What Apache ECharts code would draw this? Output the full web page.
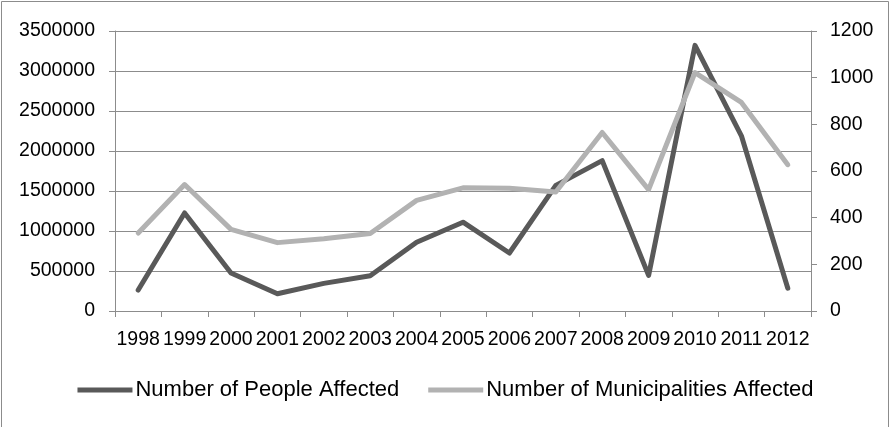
<!DOCTYPE html>
<html>
<head>
<meta charset="utf-8">
<script src="https://cdn.jsdelivr.net/npm/echarts@6/dist/echarts.min.js"></script>
<style>
  html, body { margin: 0; padding: 0; background: #fff; }
  #chart { width: 891px; height: 427px; }
</style>
</head>
<body>
<div id="chart"></div>
<script>
var chart = echarts.init(document.getElementById('chart'));

// data
var years = ['1998', '1999', '2000', '2001', '2002', '2003', '2004', '2005',
             '2006', '2007', '2008', '2009', '2010', '2011', '2012'];
var peopleAffected = [262000, 1225000, 475000, 215000, 345000, 440000, 860000, 1110000,
                      725000, 1570000, 1880000, 445000, 3320000, 2190000, 285000];
var municipalitiesAffected = [334, 542, 350, 293, 310, 332, 474, 528,
                              526, 510, 765, 520, 1022, 894, 627];

var gridColor = '#8c8c8c';
var font = 'Liberation Sans';

// plain numbers, no thousands separators
function plain(v) { return String(v); }

var option = {
    backgroundColor: '#fff',
    animation: false,
    graphic: [{
        type: 'rect',
        shape: { x: 1.5, y: 1.5, width: 887, height: 440 },
        style: { fill: 'none', stroke: gridColor, lineWidth: 1 },
        silent: true
    }],
    grid: { left: 115, right: 80, top: 31, bottom: 116 },
    legend: {
        bottom: 21,
        left: 'center',
        icon: 'rect',
        itemWidth: 55,
        itemHeight: 5,
        itemGap: 29,
        textStyle: { fontFamily: font, fontSize: 22, color: '#000', padding: [0, 0, 0, -2] },
        data: ['Number of People Affected', 'Number of Municipalities Affected']
    },
    xAxis: {
        type: 'category',
        data: years,
        boundaryGap: true,
        axisLine: { lineStyle: { color: gridColor, width: 1 } },
        axisTick: { show: true, length: 6, lineStyle: { color: gridColor } },
        axisLabel: { color: '#000', fontFamily: font, fontSize: 19.5, margin: 19, interval: 0 },
        splitLine: { show: false }
    },
    yAxis: [{
        type: 'value',
        min: 0, max: 3500000, interval: 500000,
        axisLine: { show: true, lineStyle: { color: gridColor, width: 1 } },
        axisTick: { show: true, length: 6, lineStyle: { color: gridColor } },
        axisLabel: { color: '#000', fontFamily: font, fontSize: 19.5, margin: 20, formatter: plain },
        splitLine: { show: true, lineStyle: { color: gridColor, width: 1 } }
    }, {
        type: 'value',
        position: 'right',
        min: 0, max: 1200, interval: 200,
        axisLine: { show: true, lineStyle: { color: gridColor, width: 1 } },
        axisTick: { show: true, length: 6, lineStyle: { color: gridColor } },
        axisLabel: { color: '#000', fontFamily: font, fontSize: 19.5, margin: 19, formatter: plain },
        splitLine: { show: false }
    }],
    series: [{
        name: 'Number of People Affected',
        type: 'line',
        yAxisIndex: 0,
        data: peopleAffected,
        showSymbol: false,
        symbol: 'none',
        itemStyle: { color: '#595959' },
        lineStyle: { color: '#595959', width: 5, cap: 'round', join: 'round' }
    }, {
        name: 'Number of Municipalities Affected',
        type: 'line',
        yAxisIndex: 1,
        data: municipalitiesAffected,
        showSymbol: false,
        symbol: 'none',
        itemStyle: { color: '#b2b2b2' },
        lineStyle: { color: '#b2b2b2', width: 5, cap: 'round', join: 'round' }
    }]
};
chart.setOption(option);
</script>
</body>
</html>
